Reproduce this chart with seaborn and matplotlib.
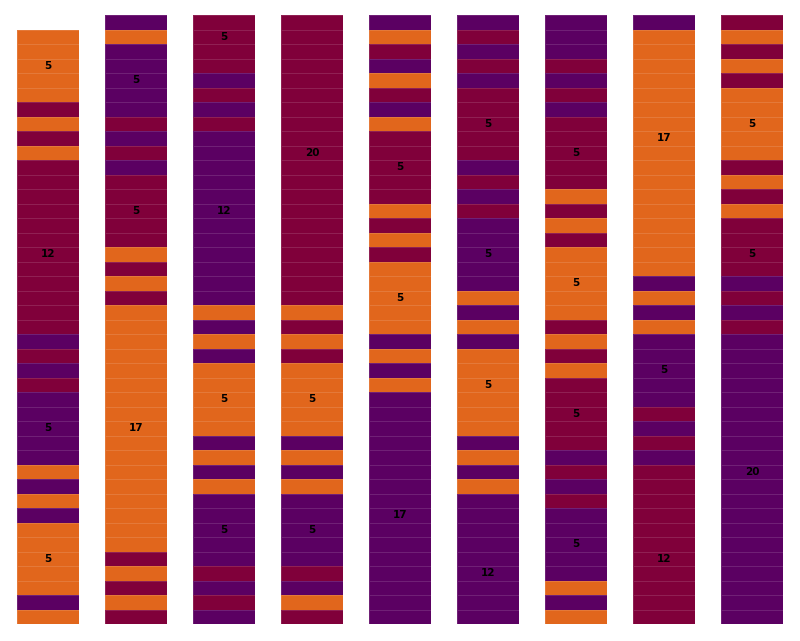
# Stacked cell columns with run-length labels, drawn as one seaborn heatmap per column.
import numpy as np
import matplotlib.pyplot as plt
import seaborn as sns
from matplotlib.colors import ListedColormap

# Cell colours read top to bottom, one string per column.
# O = orange, R = crimson, P = purple, - = empty cell. Spaces only group runs.
col1 = "- OOOOO RORO RRRRRRRRRRRR PRPR PPPPP OPOP OOOOO PO"
col2 = "PO PPPPP RPRP RRRRR OROR OOOOOOOOOOOOOOOOO RORO R"
col3 = "RRRR PRPR PPPPPPPPPPPP OPOP OOOOO POPO PPPPP RPRP"
col4 = "RRRRRRRRRRRRRRRRRRRR OROR OOOOO POPO PPPPP RPOR"
col5 = "PORPORPO RRRRR OROR OOOOO POPO PPPPPPPPPPPPPPPP"
col6 = "PRPRP RRRRR PRPR PPPPP OPOP OOOOOO POPO PPPPPPPPP"
col7 = "PPPRPRP RRRRR OROR OOOOO RORO RRRRR PRPR PPPPP OPO"
col8 = "P OOOOOOOOOOOOOOOOO POPO PPPPP RPRP RRRRRRRRRRR"
col9 = "RORO R OOOOO RORO RRRR PRPR PPPPPPPPPPPPPPPPPPPP"
columns = [col1, col2, col3, col4, col5, col6, col7, col8, col9]

# Labelled cells: row index of the label and its text, per column.
label_rows = [
    [3, 16, 28, 37],
    [4, 13, 28],
    [1, 13, 26, 35],
    [9, 26, 35],
    [10, 19, 34],
    [7, 16, 25, 38],
    [9, 18, 27, 36],
    [8, 24, 37],
    [7, 16, 31],
]
label_texts = [
    ["5", "12", "5", "5"],
    ["5", "5", "17"],
    ["5", "12", "5", "5"],
    ["20", "5", "5"],
    ["5", "5", "17"],
    ["5", "5", "5", "12"],
    ["5", "5", "5", "5"],
    ["17", "5", "12"],
    ["5", "5", "20"],
]

codes = {"O": 0, "R": 1, "P": 2, "-": np.nan}
cmap = ListedColormap(["#e1661c", "#80003a", "#5b0062"])

fig, axes = plt.subplots(1, 9, figsize=(8, 6.41), dpi=100)
fig.subplots_adjust(left=17 / 800, right=783 / 800, top=1 - 15 / 641,
                    bottom=1 - 624 / 641, wspace=26 / 62)

for ax, seq, rows, texts in zip(axes, columns, label_rows, label_texts):
    cells = [codes[c] for c in seq.replace(" ", "")]
    values = np.array(cells, dtype=float).reshape(-1, 1)
    annot = np.full(values.shape, "", dtype=object)
    for r, t in zip(rows, texts):
        annot[r, 0] = t
    sns.heatmap(values, ax=ax, cmap=cmap, vmin=-0.5, vmax=2.5, cbar=False,
                annot=annot, fmt="", linewidths=0.6,
                linecolor=(1, 1, 1, 0.13),
                annot_kws={"color": "black", "fontsize": 7.5,
                           "fontweight": "bold"})
    ax.set_xticks([])
    ax.set_yticks([])
    ax.set_xlabel("")
    ax.set_ylabel("")

fig.savefig("out.png", dpi=100, facecolor="white")
